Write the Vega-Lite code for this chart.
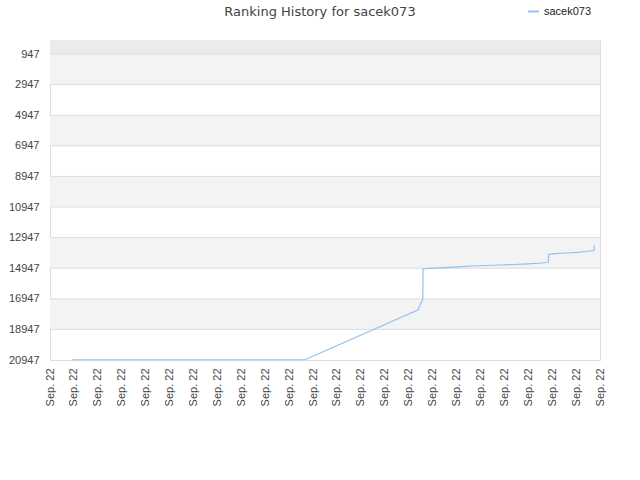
{
  "$schema": "https://vega.github.io/schema/vega-lite/v6.json",
  "width": 550,
  "height": 320,
  "autosize": {"type": "none"},
  "padding": {"left": 50, "top": 40, "right": 40, "bottom": 120},
  "background": "white",
  "config": {
    "view": {"stroke": "#dddddd"},
    "font": "Liberation Sans",
    "axisY": {"labelOverlap": false}
  },
  "title": {
    "text": "Ranking History for sacek073",
    "fontSize": 13,
    "font": "DejaVu Sans",
    "fontWeight": "normal",
    "color": "#444444",
    "anchor": "middle",
    "dx": -5,
    "offset": -14
  },
  "layer": [
    {
      "data": {"values": [{"a": 30, "b": 947}]},
      "mark": {"type": "rect", "color": "#ebebeb"},
      "encoding": {
        "y": {"field": "a", "type": "quantitative", "scale": {"domain": [30, 20947], "reverse": true, "zero": false, "nice": false},
          "axis": {
            "title": null,
            "values": [947, 2947, 4947, 6947, 8947, 10947, 12947, 14947, 16947, 18947, 20947],
            "tickCount": 30,
            "format": "d",
            "grid": false,
            "ticks": false,
            "domain": false,
            "labelPadding": 11,
            "labelFontSize": 11,
            "labelColor": "#444444",
            "labelOverlap": false
          }},
        "y2": {"field": "b"}
      }
    },
    {
      "data": {"values": [
        {"a": 947, "b": 2947},
        {"a": 4947, "b": 6947},
        {"a": 8947, "b": 10947},
        {"a": 12947, "b": 14947},
        {"a": 16947, "b": 18947}
      ]},
      "mark": {"type": "rect", "color": "#f3f3f3"},
      "encoding": {
        "y": {"field": "a", "type": "quantitative"},
        "y2": {"field": "b"}
      }
    },
    {
      "data": {"values": [
        {"t": 947}, {"t": 2947}, {"t": 4947}, {"t": 6947}, {"t": 8947}, {"t": 10947},
        {"t": 12947}, {"t": 14947}, {"t": 16947}, {"t": 18947}
      ]},
      "mark": {"type": "rule", "color": "#dddddd", "strokeWidth": 1},
      "encoding": {
        "y": {"field": "t", "type": "quantitative"}
      }
    },
    {
      "data": {"values": [
        {"user": "sacek073", "i": 0.92, "rank": 20930},
        {"user": "sacek073", "i": 10.66, "rank": 20930},
        {"user": "sacek073", "i": 15.38, "rank": 17679},
        {"user": "sacek073", "i": 15.59, "rank": 16960},
        {"user": "sacek073", "i": 15.6, "rank": 15000},
        {"user": "sacek073", "i": 15.89, "rank": 14954},
        {"user": "sacek073", "i": 16.48, "rank": 14914},
        {"user": "sacek073", "i": 17.06, "rank": 14855},
        {"user": "sacek073", "i": 17.65, "rank": 14803},
        {"user": "sacek073", "i": 18.23, "rank": 14771},
        {"user": "sacek073", "i": 18.82, "rank": 14738},
        {"user": "sacek073", "i": 19.4, "rank": 14705},
        {"user": "sacek073", "i": 19.99, "rank": 14660},
        {"user": "sacek073", "i": 20.57, "rank": 14607},
        {"user": "sacek073", "i": 20.83, "rank": 14575},
        {"user": "sacek073", "i": 20.86, "rank": 14039},
        {"user": "sacek073", "i": 21.12, "rank": 14000},
        {"user": "sacek073", "i": 21.58, "rank": 13954},
        {"user": "sacek073", "i": 22.08, "rank": 13908},
        {"user": "sacek073", "i": 22.58, "rank": 13823},
        {"user": "sacek073", "i": 22.75, "rank": 13790},
        {"user": "sacek073", "i": 22.76, "rank": 13431}
      ]},
      "mark": {"type": "line", "strokeWidth": 1.2},
      "encoding": {
        "x": {
          "field": "i", "type": "quantitative",
          "scale": {"domain": [0, 23], "nice": false, "zero": false},
          "axis": {
            "title": null,
            "values": [0,1,2,3,4,5,6,7,8,9,10,11,12,13,14,15,16,17,18,19,20,21,22,23],
            "tickCount": 50,
            "labelExpr": "'Sep. 22'",
            "labelAngle": -90,
            "labelAlign": "right",
            "labelBaseline": "middle",
            "labelPadding": 8,
            "labelFontSize": 11,
            "labelColor": "#444444",
            "ticks": false,
            "domain": false,
            "grid": false,
            "labelOverlap": false,
            "labelBound": false,
            "labelFlush": false
          }
        },
        "y": {
          "field": "rank", "type": "quantitative"
        },
        "color": {
          "field": "user", "type": "nominal",
          "scale": {"range": ["#92c1f0"]},
          "legend": {
            "title": null,
            "orient": "none",
            "legendX": 477,
            "legendY": -35,
            "symbolType": "stroke",
            "symbolStrokeWidth": 2,
            "symbolSize": 120,
            "labelFontSize": 11,
            "labelColor": "#222222"
          }
        }
      }
    }
  ]
}
